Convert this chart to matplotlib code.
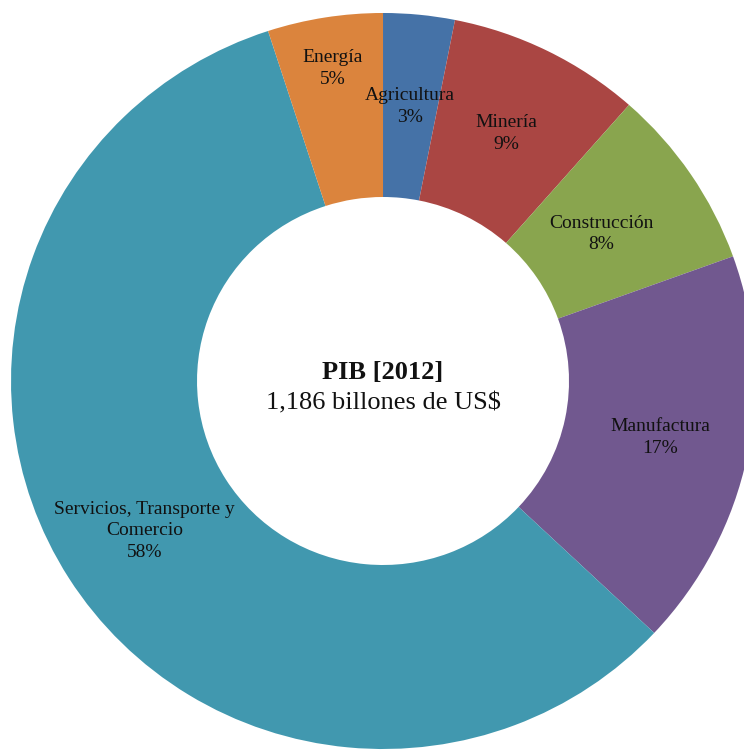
import numpy as np
import matplotlib
matplotlib.use("Agg")
import matplotlib.pyplot as plt

# Data (clockwise from 12 o'clock), shares read from the slice boundaries
sectors = ["Agricultura", "Minería", "Construcción", "Manufactura",
           "Servicios, Transporte y\nComercio", "Energía"]
shares = [3.1, 8.4, 8.0, 17.5, 58.0, 5.0]
pct_labels = ["3%", "9%", "8%", "17%", "58%", "5%"]
colors = ["#4572A7", "#AA4643", "#89A54E", "#71588F", "#4198AF", "#DB843D"]
label_radius = [0.75, 0.75, 0.71, 0.76, 0.76, 0.86]

center_title = "PIB [2012]"
center_sub = "1,186 billones de US$"

plt.rcParams['font.family'] = ['Liberation Serif', 'DejaVu Serif']

fig = plt.figure(figsize=(7.44, 7.5), dpi=100)
ax = fig.add_axes([0, 0, 1, 1])

wedges, _ = ax.pie(shares, colors=colors, startangle=90, counterclock=False,
                   radius=1.0, wedgeprops=dict(width=0.5, linewidth=0))

# labels at each wedge's mid angle
for w, name, pct, r in zip(wedges, sectors, pct_labels, label_radius):
    ang = np.deg2rad((w.theta1 + w.theta2) / 2)
    ax.text(r * np.cos(ang), r * np.sin(ang), f"{name}\n{pct}",
            ha='center', va='center', fontsize=14, color='#111111',
            linespacing=1.35)

ax.text(0, 0.022, center_title, ha='center', va='center', fontsize=19,
        fontweight='bold', color='#111111')
ax.text(0, -0.06, center_sub, ha='center', va='center', fontsize=19,
        color='#111111')

# chart is slightly cropped on the right and bottom, slightly wider than tall
ax.set_aspect('auto')
ax.set_xlim(-1.0296, 0.9704)
ax.set_ylim(-1.0027, 1.0353)
ax.axis('off')

fig.savefig("out.png", dpi=100, facecolor='white')
